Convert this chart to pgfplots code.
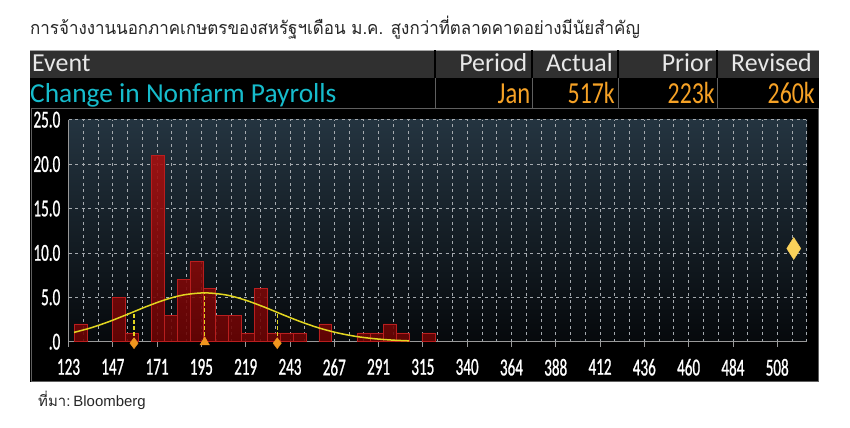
\documentclass[border=0pt]{standalone}
\usepackage{fontspec}
\setmainfont{Carlito}
\newfontfamily\thaifont[Script=Thai]{Loma}
\newfontfamily\tickfont[FakeStretch=0.62,FakeBold=0.8]{Carlito}
\newfontfamily\arialfont{Liberation Sans}
\usepackage{pgfplots}
\pgfplotsset{compat=1.18}
\definecolor{hdrgray}{RGB}{48,48,48}
\definecolor{hdrtext}{RGB}{232,232,232}
\definecolor{bbcyan}{RGB}{22,188,204}
\definecolor{bborange}{RGB}{246,162,38}
\definecolor{sepgray}{RGB}{95,95,95}
\definecolor{bgtop}{RGB}{36,52,64}
\definecolor{bgbot}{RGB}{6,9,12}
\definecolor{gridc}{RGB}{165,170,175}
\definecolor{bartop}{RGB}{165,16,16}
\definecolor{barbot}{RGB}{105,4,4}
\definecolor{baredge}{RGB}{185,30,30}
\definecolor{curvec}{RGB}{226,214,32}
\definecolor{mkorange}{RGB}{240,150,30}
\definecolor{actyel}{RGB}{250,210,90}
\begin{document}
\begin{tikzpicture}[x=1bp,y=1bp]
\useasboundingbox (0,0) rectangle (850,427);
\fill[white] (0,0) rectangle (850,427);
% title
\node[anchor=base west,inner sep=0pt,text=black!85] at (30,392.5) {\scalebox{0.945}[1]{\thaifont\fontsize{18}{20}\selectfont การจ้างงานนอกภาคเกษตรของสหรัฐฯเดือน ม.ค. สูงกว่าที่ตลาดคาดอย่างมีนัยสำคัญ}};
% panel
\fill[black] (30,45) rectangle (819,377);
\fill[hdrgray] (30,349) rectangle (819,377);
\draw[gray!70,line width=0.8] (30,376.6) -- (819,376.6);
\foreach \x in {435,532,618,717} {
  \draw[black,line width=1.5] (\x,349) -- (\x,377);
  \draw[sepgray,line width=1] (\x,319) -- (\x,349);
}
\draw[sepgray,line width=1] (31,46) rectangle (818,319);
% header texts
\node[anchor=base west,inner sep=0pt,text=hdrtext] at (32,355.3) {\fontsize{26}{26}\selectfont Event};
\node[anchor=base east,inner sep=0pt,text=hdrtext] at (527.5,355.3) {\fontsize{26}{26}\selectfont Period};
\node[anchor=base east,inner sep=0pt,text=hdrtext] at (613,355.3) {\fontsize{26}{26}\selectfont Actual};
\node[anchor=base east,inner sep=0pt,text=hdrtext] at (713,355.3) {\fontsize{26}{26}\selectfont Prior};
\node[anchor=base east,inner sep=0pt,text=hdrtext] at (812,355.3) {\fontsize{26}{26}\selectfont Revised};
\node[anchor=base west,inner sep=0pt,text=bbcyan] at (30,324.5) {\fontsize{27.5}{27.5}\selectfont Change in Nonfarm Payrolls};
\node[anchor=base east,inner sep=0pt,text=bborange] at (530.5,323.8) {\scalebox{0.95}[1.18]{\fontsize{26}{26}\selectfont Jan}};
\node[anchor=base east,inner sep=0pt,text=bborange] at (615,323.8) {\scalebox{0.92}[1.18]{\fontsize{26}{26}\selectfont 517k}};
\node[anchor=base east,inner sep=0pt,text=bborange] at (715,323.8) {\scalebox{0.92}[1.18]{\fontsize{26}{26}\selectfont 223k}};
\node[anchor=base east,inner sep=0pt,text=bborange] at (815,323.8) {\scalebox{0.92}[1.18]{\fontsize{26}{26}\selectfont 260k}};
% source
\node[anchor=base west,inner sep=0pt,text=black!85] at (38,20.3) {{\thaifont\fontsize{15}{17}\selectfont ที่มา:} {\arialfont\fontsize{15}{17}\selectfont Bloomberg}};
\begin{axis}[
  at={(68.5bp,85.3bp)}, anchor=south west,
  scale only axis, width=738.5bp, height=222bp,
  xmin=123, xmax=524.2, ymin=0, ymax=25,
  axis background/.style={top color=bgtop, bottom color=bgbot},
  axis x line*=bottom, axis y line*=left,
  axis line style={draw=gray!80, line width=0.8bp, -},
  xtick={123,147.06,171.13,195.19,219.25,243.31,267.38,291.44,315.5,339.56,363.63,387.69,411.75,435.81,459.88,483.94,508},
  xticklabels={123,147,171,195,219,243,267,291,315,340,364,388,412,436,460,484,508},
  minor xtick={131.02,139.04,155.08,163.10,179.15,187.17,203.21,211.23,227.27,235.29,251.33,259.35,275.40,283.42,299.46,307.48,323.52,331.54,347.58,355.60,371.65,379.67,395.71,403.73,419.77,427.79,443.83,451.85,467.90,475.92,491.96,499.98,516.02,524.04},
  ytick={0,5,10,15,20,25},
  yticklabels={.0,5.0,10.0,15.0,20.0,25.0},
  xmajorgrids, xminorgrids, ymajorgrids,
  grid style={draw=gridc, dash pattern=on 3bp off 3.5bp, line width=0.8bp},
  minor grid style={draw=gridc, dash pattern=on 3bp off 3.5bp, line width=0.8bp},
  tick align=outside, major tick length=5bp, minor tick length=0pt,
  xtick style={draw=gray!80, line width=0.8bp},
  ytick style={draw=none},
  ticklabel style={text=white, font=\tickfont\fontsize{24.5}{24.5}\selectfont, inner sep=0pt},
  xticklabel style={anchor=north, yshift=-12bp},
  yticklabel style={anchor=east, xshift=-3bp},
  clip=false,
]
\addplot[ybar, bar width=7, draw=baredge, line width=0.6bp, top color=bartop, bottom color=barbot, fill opacity=0.9]
coordinates {(129.5,2) (150.5,5) (157.5,1) (171.5,21) (178.5,3) (185.5,7) (192.5,9) (199.5,6) (206.5,3) (213.5,3) (220.5,1) (227.5,6) (234.5,1) (241.5,1) (248.5,1) (262.5,2) (283.5,1) (290.5,1) (297.5,2) (304.5,1) (318.5,1)};
\addplot[curvec, line width=1.5bp, smooth, no marks]
coordinates {(126,1.05) (135,1.55) (145,2.26) (155,3.08) (165,3.93) (175,4.69) (185,5.25) (197,5.50) (209,5.25) (219,4.69) (229,3.93) (239,3.08) (249,2.26) (259,1.55) (269,1.00) (279,0.60) (289,0.34) (299,0.18) (308,0.10)};
\addplot[curvec, line width=1.3bp, dash pattern=on 3.5bp off 2.5bp, no marks] coordinates {(158.6,0) (158.6,3.30)};
\addplot[curvec, line width=1.3bp, dash pattern=on 3.5bp off 2.5bp, no marks] coordinates {(197,0) (197,5.50)};
\addplot[curvec, line width=1.3bp, dash pattern=on 3.5bp off 2.5bp, no marks] coordinates {(236.4,0) (236.4,3.34)};
\addplot[only marks, mark=diamond*, mark size=5.5bp, mark options={fill=mkorange, draw=mkorange, yshift=-1.5bp}] coordinates {(158.6,0) (236.4,0)};
\addplot[only marks, mark=triangle*, mark size=5.5bp, mark options={fill=mkorange, draw=mkorange, yshift=-0.5bp}] coordinates {(197,0)};
\addplot[only marks, mark=diamond*, mark size=11bp, mark options={fill=actyel, draw=actyel, xscale=0.85}] coordinates {(517,10.5)};
\end{axis}
\end{tikzpicture}
\end{document}
